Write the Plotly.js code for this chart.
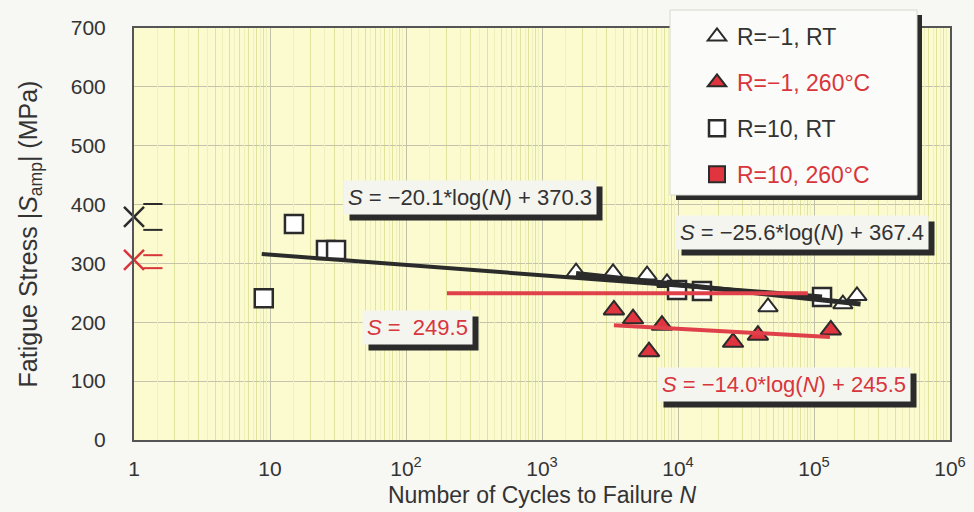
<!DOCTYPE html>
<html><head><meta charset="utf-8">
<script src="https://cdn.plot.ly/plotly-3.0.1.min.js"></script>
<style>html,body{margin:0;padding:0;background:#f7f7f4;} #chart{width:974px;height:512px;}</style>
</head><body><div id="chart"></div>
<script>
// ---- data ----
// R=-1, RT (open triangles)
const triRT_N = [1780, 3330, 5920, 8300, 45900, 163000, 207000];
const triRT_S = [285, 284, 280, 267, 226, 231, 245];
// R=-1, 260°C (red triangles)
const tri260_N = [3380, 4670, 7620, 6120, 25400, 38700, 133000];
const tri260_S = [221, 206, 195, 150, 166, 178, 187];
// R=10, RT (open squares)
const sqRT_N = [9.0, 15, 25.8, 30.6, 9840, 15000, 114600];
const sqRT_S = [241, 367, 323, 323, 255, 253, 243];
// R=10, 260°C (legend only, no plotted failures)
const sq260_N = [null];
const sq260_S = [null];
// static strength at N = 1 (mean and range)
const staticN = [1];
const staticRT_S = [379];
const staticRT_range = [357, 401];
const static260_S = [306];
const static260_range = [292, 314];
const capN = [1.17, 1.62];
// fitted lines (end points)
const fitSqRT_N = [8.7, 114600];   const fitSqRT_S = [316, 244];
const fitTriRT_N = [1780, 220000]; const fitTriRT_S = [283, 231];
const fitTri260_N = [3380, 131000];const fitTri260_S = [195, 175];
const fitSq260_N = [200, 90000];   const fitSq260_S = [249.5, 249.5];
// labels
const legendNames = ['R=−1, RT', 'R=−1, 260°C', 'R=10, RT', 'R=10, 260°C'];
const eqTexts = [
  '<i>S</i> = −20.1*log(<i>N</i>) + 370.3',
  '<i>S</i> = −25.6*log(<i>N</i>) + 367.4',
  '<i>S</i> =  249.5',
  '<i>S</i> = −14.0*log(<i>N</i>) + 245.5'
];
const xTickVals = [1, 10, 100, 1000, 10000, 100000, 1000000];
const xTickText = ['1', '10', '10<sup>2</sup>', '10<sup>3</sup>', '10<sup>4</sup>', '10<sup>5</sup>', '10<sup>6</sup>'];
const yTickVals = [0, 100, 200, 300, 400, 500, 600, 700];

// ---- style ----
const RED = '#d8363c';
const DARK = '#2b2b2b';
const FONT = 'Liberation Sans, Arial, sans-serif';

// grid helper values (background pattern only)
const minorVals = [], halfVals = [];
for (let d = 0; d < 6; d++) {
  for (let k = 2; k <= 9; k++) minorVals.push(k * Math.pow(10, d));
  for (let k = 1; k <= 9; k++) halfVals.push((k + 0.5) * Math.pow(10, d));
}

const traces = [];
// background sub-grid carrier
traces.push({x: [null], y: [null], xaxis: 'x2', yaxis: 'y', type: 'scatter', mode: 'markers', showlegend: false, hoverinfo: 'skip'});

traces.push({x: triRT_N, y: triRT_S, type: 'scatter', mode: 'markers', name: legendNames[0], legendgroup: 'a',
  marker: {symbol: 'triangle-up', size: 17, color: '#ffffff', line: {color: DARK, width: 2}}});
traces.push({x: tri260_N, y: tri260_S, type: 'scatter', mode: 'markers', name: '<span style="color:' + RED + '">' + legendNames[1] + '</span>', legendgroup: 'b',
  marker: {symbol: 'triangle-up', size: 18, color: '#e0343e', line: {color: DARK, width: 2}}});
traces.push({x: sqRT_N, y: sqRT_S, type: 'scatter', mode: 'markers', name: legendNames[2], legendgroup: 'c',
  marker: {symbol: 'square', size: 18, color: '#ffffff', line: {color: DARK, width: 2.5}}});
traces.push({x: sq260_N, y: sq260_S, type: 'scatter', mode: 'markers', name: '<span style="color:' + RED + '">' + legendNames[3] + '</span>', legendgroup: 'd',
  marker: {symbol: 'square', size: 16, color: '#e0343e', line: {color: DARK, width: 2}}});

// fitted lines (over the markers)
traces.push({x: fitSqRT_N, y: fitSqRT_S, type: 'scatter', mode: 'lines', showlegend: false, line: {color: DARK, width: 4}});
traces.push({x: fitTriRT_N, y: fitTriRT_S, type: 'scatter', mode: 'lines', showlegend: false, line: {color: DARK, width: 5}});
traces.push({x: fitSq260_N, y: fitSq260_S, type: 'scatter', mode: 'lines', showlegend: false, line: {color: '#e0404a', width: 4}});
traces.push({x: fitTri260_N, y: fitTri260_S, type: 'scatter', mode: 'lines', showlegend: false, line: {color: '#e0404a', width: 4}});

// static strength: X marker + range caps
function caps(range, color) {
  range.forEach(v => traces.push({x: capN, y: [v, v], type: 'scatter', mode: 'lines', showlegend: false, cliponaxis: false,
    line: {color: color, width: 2}}));
}
caps(staticRT_range, DARK);
caps(static260_range, RED);
traces.push({x: staticN, y: staticRT_S, type: 'scatter', mode: 'markers', showlegend: false, cliponaxis: false,
  marker: {symbol: 'x-thin', size: 20, line: {color: DARK, width: 2.5}}});
traces.push({x: staticN, y: static260_S, type: 'scatter', mode: 'markers', showlegend: false, cliponaxis: false,
  marker: {symbol: 'x-thin', size: 20, line: {color: RED, width: 2.5}}});

// pixel -> paper helpers (plot area 134..950 x, 28..440 y)
const PL = 134, PR = 950, PT = 28, PB = 440;
const px = v => (v - PL) / (PR - PL);
const py = v => (PB - v) / (PB - PT);

// equation boxes (drop shadows added after layout from measured box sizes)
const boxes = [
  {t: eqTexts[0], x: 343, y: 180, c: '#333333'},
  {t: eqTexts[1], x: 675, y: 215, c: '#333333'},
  {t: eqTexts[2], x: 362, y: 310, c: RED},
  {t: eqTexts[3], x: 657, y: 367, c: RED}
];
const annotations = boxes.map(b => ({text: b.t, xref: 'paper', yref: 'paper', x: px(b.x), y: py(b.y),
  xanchor: 'left', yanchor: 'top', showarrow: false, bgcolor: '#f5f5f0', borderpad: 4,
  font: {family: FONT, size: 22, color: b.c}}));

const legendShapes = [
  {type: 'rect', xref: 'paper', yref: 'paper', x0: px(676), x1: px(922), y0: py(200), y1: py(15), layer: 'above',
    fillcolor: DARK, line: {width: 0}},
  {type: 'rect', xref: 'paper', yref: 'paper', x0: px(670), x1: px(917), y0: py(195), y1: py(10), layer: 'above',
    fillcolor: '#fbfbf9', line: {width: 1, color: '#d8d8d0'}}
];

const layout = {
  width: 974, height: 512,
  margin: {l: PL, r: 974 - PR, t: PT, b: 512 - PB},
  paper_bgcolor: '#f7f7f4',
  plot_bgcolor: '#fbfbcf',
  font: {family: FONT, color: '#333333', size: 21},
  showlegend: true,
  legend: {x: px(697), y: py(15), xanchor: 'left', yanchor: 'top', bgcolor: 'rgba(0,0,0,0)', borderwidth: 0,
    font: {family: FONT, size: 23, color: '#333333'}, tracegroupgap: 13, traceorder: 'grouped'},
  xaxis: {
    type: 'log', range: [0, 6], tickmode: 'array', tickvals: xTickVals, ticktext: xTickText,
    tickfont: {size: 21, color: '#333333'}, ticks: '', ticklabelstandoff: 9,
    showgrid: true, gridcolor: '#c2c2a6', gridwidth: 1, zeroline: false,
    showline: true, mirror: true, linecolor: '#555555', linewidth: 2,
    minor: {tickmode: 'array', tickvals: minorVals, showgrid: true, gridcolor: '#dfe39b', gridwidth: 1, ticks: ''},
    title: {text: 'Number of Cycles to Failure <i>N</i>', font: {size: 23, color: '#333333'}, standoff: 8}
  },
  xaxis2: {
    type: 'log', range: [0, 6], overlaying: 'x', anchor: 'y', tickmode: 'array', tickvals: halfVals,
    showticklabels: false, ticks: '', showgrid: true, gridcolor: '#eef0bd', gridwidth: 1, zeroline: false, showline: false
  },
  yaxis: {
    range: [0, 700], tickmode: 'array', tickvals: yTickVals, tickfont: {size: 21, color: '#333333'},
    ticks: '', ticklabelstandoff: 22, showgrid: true, gridcolor: '#c4c4ac', gridwidth: 1, zeroline: false,
    showline: true, mirror: true, linecolor: '#555555', linewidth: 2,
    title: {text: 'Fatigue Stress |<i>S</i><sub>amp</sub>| (MPa)', font: {size: 25, color: '#333333'}, standoff: 26}
  },
  shapes: legendShapes,
  annotations: annotations
};

Plotly.newPlot('chart', traces, layout, {displayModeBar: false, staticPlot: true}).then(gd => {
  const root = gd.getBoundingClientRect();
  const shadows = [];
  gd.querySelectorAll('.annotation rect.bg').forEach(r => {
    const b = r.getBoundingClientRect();
    const x0 = b.left - root.left, y0 = b.top - root.top, x1 = b.right - root.left, y1 = b.bottom - root.top;
    shadows.push({type: 'rect', xref: 'paper', yref: 'paper', x0: px(x0 + 6), x1: px(x1 + 6), y0: py(y1 + 6), y1: py(y0 + 6),
      fillcolor: DARK, line: {width: 0}, layer: 'above'});
  });
  return Plotly.relayout(gd, {shapes: shadows.concat(legendShapes)});
});
</script>
</body></html>
